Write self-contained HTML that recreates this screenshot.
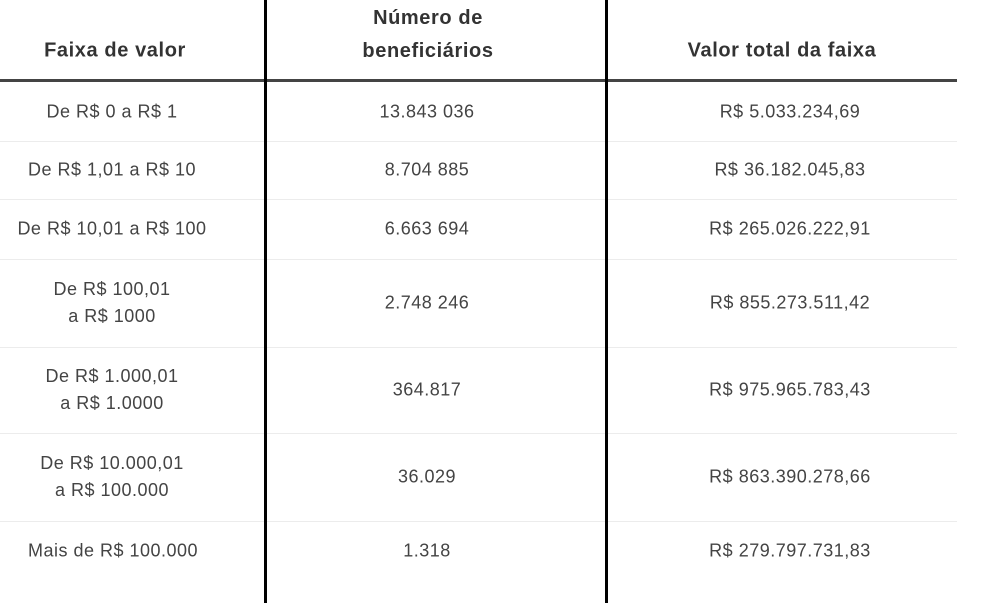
<!DOCTYPE html>
<html><head><meta charset="utf-8"><style>
html,body{margin:0;padding:0;background:#fff;}
body{width:983px;height:603px;position:relative;overflow:hidden;font-family:"Liberation Sans","DejaVu Sans",sans-serif;color:#444;}
.t{position:absolute;text-align:center;font-size:18px;letter-spacing:0.5px;line-height:27px;transform:translate(-50%,-50%);white-space:nowrap;}
.h{font-weight:bold;color:#333;font-size:20px;letter-spacing:0.6px;line-height:33px;}
.hl{position:absolute;left:0;width:957px;height:1px;background:#ececec;}
.vl{position:absolute;top:0;width:3px;height:603px;background:#000;}
</style></head><body>
<div style="position:absolute;left:0;top:79px;width:957px;height:3px;background:#444;"></div>
<div class="hl" style="top:141px"></div>
<div class="hl" style="top:199px"></div>
<div class="hl" style="top:259px"></div>
<div class="hl" style="top:347px"></div>
<div class="hl" style="top:433px"></div>
<div class="hl" style="top:521px"></div>
<div class="vl" style="left:264px"></div>
<div class="vl" style="left:605px"></div>

<div class="t h" style="left:115px;top:51px">Faixa de valor</div>
<div class="t h" style="left:428px;top:35px">Número de<br>beneficiários</div>
<div class="t h" style="left:782px;top:51px">Valor total da faixa</div>

<div class="t" style="left:112px;top:112px">De R$ 0 a R$ 1</div>
<div class="t" style="left:112px;top:170px">De R$ 1,01 a R$ 10</div>
<div class="t" style="left:112px;top:229px">De R$ 10,01 a R$ 100</div>
<div class="t" style="left:112px;top:303px">De R$ 100,01<br>a R$ 1000</div>
<div class="t" style="left:112px;top:390px">De R$ 1.000,01<br>a R$ 1.0000</div>
<div class="t" style="left:112px;top:477px">De R$ 10.000,01<br>a R$ 100.000</div>
<div class="t" style="left:113px;top:551px">Mais de R$ 100.000</div>

<div class="t" style="left:427px;top:112px">13.843 036</div>
<div class="t" style="left:427px;top:170px">8.704 885</div>
<div class="t" style="left:427px;top:229px">6.663 694</div>
<div class="t" style="left:427px;top:303px">2.748 246</div>
<div class="t" style="left:427px;top:390px">364.817</div>
<div class="t" style="left:427px;top:477px">36.029</div>
<div class="t" style="left:427px;top:551px">1.318</div>

<div class="t" style="left:790px;top:112px">R$ 5.033.234,69</div>
<div class="t" style="left:790px;top:170px">R$ 36.182.045,83</div>
<div class="t" style="left:790px;top:229px">R$ 265.026.222,91</div>
<div class="t" style="left:790px;top:303px">R$ 855.273.511,42</div>
<div class="t" style="left:790px;top:390px">R$ 975.965.783,43</div>
<div class="t" style="left:790px;top:477px">R$ 863.390.278,66</div>
<div class="t" style="left:790px;top:551px">R$ 279.797.731,83</div>
</body></html>
